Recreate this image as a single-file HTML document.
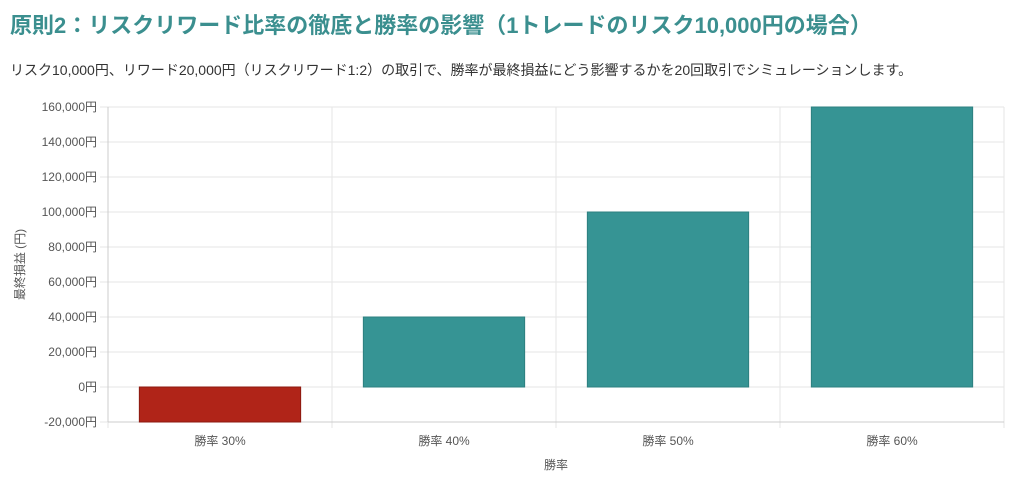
<!DOCTYPE html>
<html><head><meta charset="utf-8">
<style>
body{margin:0;width:1024px;height:480px;background:#fff;font-family:"Liberation Sans","Noto Sans CJK JP",sans-serif;overflow:hidden}
#title{position:absolute;left:10px;top:8px;font-size:22px;font-weight:bold;color:#3b8f8f;white-space:nowrap}
#sub{position:absolute;left:10px;top:60px;font-size:14px;color:#333;white-space:nowrap}
svg{position:absolute;left:0;top:0}
text{font-family:"Liberation Sans","Noto Sans CJK JP",sans-serif}
</style></head><body>
<div id="title">原則2：リスクリワード比率の徹底と勝率の影響（1トレードのリスク10,000円の場合）</div>
<div id="sub">リスク10,000円、リワード20,000円（リスクリワード1:2）の取引で、勝率が最終損益にどう影響するかを20回取引でシミュレーションします。</div>
<svg id="chart" width="1024" height="480"></svg>
<script>
const categories=["勝率 30%","勝率 40%","勝率 50%","勝率 60%"];
const values=[-20000,40000,100000,160000];
const yTicks=[-20000,0,20000,40000,60000,80000,100000,120000,140000,160000];
const NS="http://www.w3.org/2000/svg";
const svg=document.getElementById('chart');
const L=108,R=1004,T=107,B=422,yMin=-20000,yMax=160000;
const y=v=>B-(v-yMin)/(yMax-yMin)*(B-T);
const bw=(R-L)/categories.length;
const x=i=>L+i*bw;
function mk(t,a){const e=document.createElementNS(NS,t);for(const k in a)e.setAttribute(k,a[k]);svg.appendChild(e);return e;}
yTicks.forEach(v=>{
  const g=mk('line',{x1:100,x2:R,y1:y(v),y2:y(v),stroke:'#e5e5e5'});
  
  
  const t=mk('text',{x:97,y:y(v)+4,'text-anchor':'end','font-size':12,fill:'#555'});
  t.textContent=v.toLocaleString('en-US')+'円';
  
  
});
for(let i=0;i<=categories.length;i++){
  const g=mk('line',{x1:x(i),x2:x(i),y1:T,y2:B+6,stroke:'#e5e5e5'});
  
  
}
mk('line',{x1:L,x2:L,y1:T,y2:B,stroke:'#ccc'});
mk('line',{x1:L,x2:R,y1:B,y2:B,stroke:'#ccc'});
categories.forEach((c,i)=>{
  const v=values[i],w=bw*0.72,bx=x(i)+(bw-w)/2;
  const top=y(Math.max(v,0)),bot=y(Math.min(v,0));
  const r=mk('rect',{x:bx,y:top,width:w,height:bot-top,fill:v<0?'#b02418':'#369494',stroke:v<0?'#8c1a10':'#2d8080','stroke-width':1});
  
  
  const t=mk('text',{x:x(i)+bw/2,y:445,'text-anchor':'middle','font-size':12,fill:'#555'});
  t.textContent=c;
  
  
});
const xt=mk('text',{x:(L+R)/2,y:469,'text-anchor':'middle','font-size':12,fill:'#555'});
xt.textContent='勝率';


const yt=mk('text',{x:0,y:0,'text-anchor':'middle','font-size':12,fill:'#555',transform:'translate(24,'+((T+B)/2)+') rotate(-90)'});
yt.textContent='最終損益 (円)';


</script>
</body></html>
